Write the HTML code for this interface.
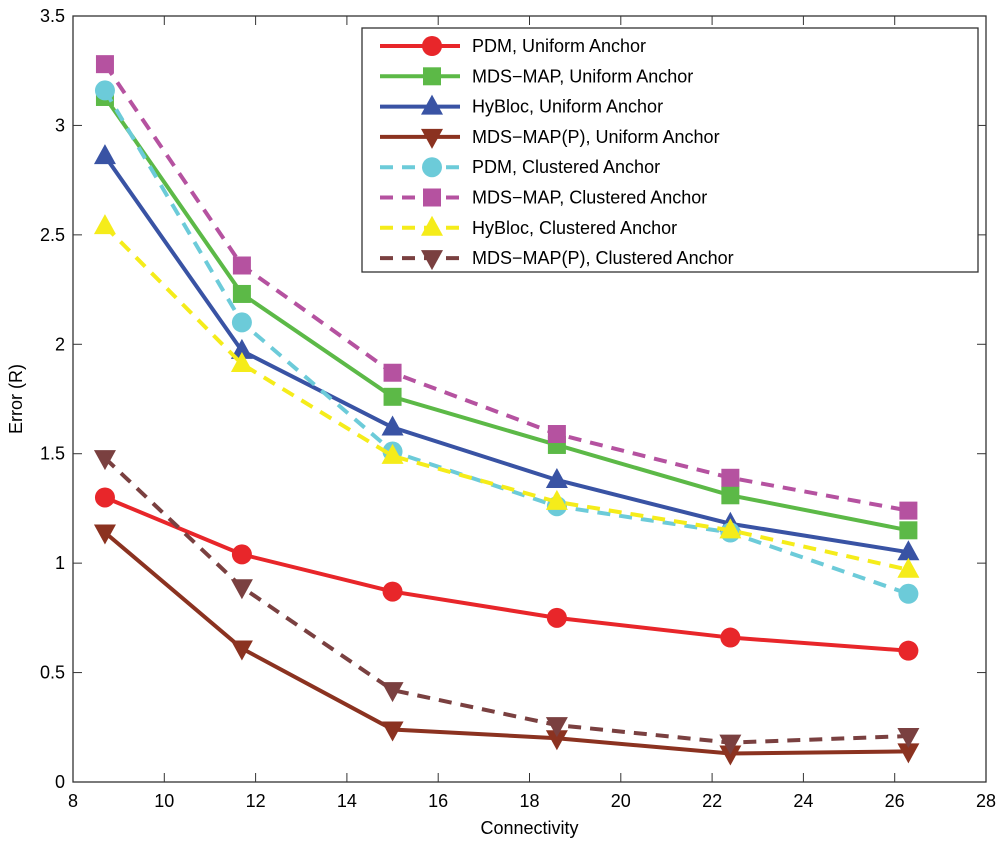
<!DOCTYPE html>
<html><head><meta charset="utf-8"><style>body{margin:0;background:#fff}svg{display:block;font-family:"Liberation Sans",sans-serif}</style></head>
<body>
<svg id="chart" width="1000" height="847" viewBox="0 0 1000 847"></svg>
<script>
const xs=[8.7,11.7,15,18.6,22.4,26.3];
const pdmU=[1.30,1.04,0.87,0.75,0.66,0.60];
const mdsU=[3.13,2.23,1.76,1.54,1.31,1.15];
const hyU=[2.86,1.97,1.62,1.38,1.18,1.05];
const mdspU=[1.14,0.61,0.24,0.20,0.13,0.14];
const pdmC=[3.16,2.10,1.51,1.26,1.14,0.86];
const mdsC=[3.28,2.36,1.87,1.59,1.39,1.24];
const hyC=[2.54,1.91,1.49,1.28,1.15,0.97];
const mdspC=[1.48,0.89,0.42,0.26,0.18,0.21];
const xTicks=[8,10,12,14,16,18,20,22,24,26,28];
const yTicks=[0,0.5,1,1.5,2,2.5,3,3.5];
const names=["PDM, Uniform Anchor","MDS\u2212MAP, Uniform Anchor","HyBloc, Uniform Anchor","MDS\u2212MAP(P), Uniform Anchor","PDM, Clustered Anchor","MDS\u2212MAP, Clustered Anchor","HyBloc, Clustered Anchor","MDS\u2212MAP(P), Clustered Anchor"];
const L=73,R=986,T=16,B=782;
const X=v=>L+(v-8)/20*(R-L), Y=v=>B-v/3.5*(B-T);
const svg=document.getElementById('chart');const NS='http://www.w3.org/2000/svg';
function mk(t,a,p){const e=document.createElementNS(NS,t);for(const k in a)e.setAttribute(k,a[k]);(p||svg).appendChild(e);return e;}
const series=[[pdmU,'#e8262a','c',0],[mdsU,'#5cb947','s',0],[hyU,'#3953a4','t',0],[mdspU,'#8b3220','v',0],[pdmC,'#6ccbd9','c',1],[mdsC,'#b552a0','s',1],[hyC,'#f5ec1a','t',1],[mdspC,'#7a4040','v',1]];
function marker(g,t,x,y,c){
 if(t=='c')mk('circle',{cx:x,cy:y,r:10,fill:c},g);
 else if(t=='s')mk('rect',{x:x-9,y:y-9,width:18,height:18,fill:c},g);
 else if(t=='t')mk('polygon',{points:`${x},${y-12} ${x-11},${y+8} ${x+11},${y+8}`,fill:c},g);
 else mk('polygon',{points:`${x},${y+12} ${x-11},${y-8} ${x+11},${y-8}`,fill:c},g);
}
const ax=mk('g',{});
mk('rect',{x:L,y:T,width:R-L,height:B-T,fill:'none',stroke:'#333','stroke-width':1.3},ax);
xTicks.forEach(v=>{const x=X(v);mk('line',{x1:x,x2:x,y1:B,y2:B-9,stroke:'#333'},ax);mk('line',{x1:x,x2:x,y1:T,y2:T+9,stroke:'#333'},ax);
 const t=mk('text',{x:x,y:B+25,'text-anchor':'middle','font-size':18},ax);t.textContent=v;});
yTicks.forEach(v=>{const y=Y(v);mk('line',{x1:L,x2:L+9,y1:y,y2:y,stroke:'#333'},ax);mk('line',{x1:R,x2:R-9,y1:y,y2:y,stroke:'#333'},ax);
 const t=mk('text',{x:L-8,y:y+6,'text-anchor':'end','font-size':18},ax);t.textContent=v;});
const xt=mk('text',{x:(L+R)/2,y:834,'text-anchor':'middle','font-size':18});xt.textContent='Connectivity';
const yt=mk('text',{x:22,y:(T+B)/2,'text-anchor':'middle','font-size':18,transform:`rotate(-90 22 ${(T+B)/2})`});yt.textContent='Error (R)';
series.forEach((s,i)=>{const g=mk('g',{});
 mk('polyline',{points:s[0].map((v,j)=>X(xs[j])+','+Y(v)).join(' '),fill:'none',stroke:s[1],'stroke-width':4,'stroke-dasharray':s[3]?'13,9':'none'},g);
 s[0].forEach((v,j)=>marker(g,s[2],X(xs[j]),Y(v),s[1]));});
const lg=mk('g',{});
mk('rect',{x:362,y:28,width:616,height:244,fill:'#fff',stroke:'#333','stroke-width':1.3},lg);
series.forEach((s,i)=>{const y=46+i*30.3;const e=mk('g',{},lg);
 mk('line',{x1:380,x2:460,y1:y,y2:y,stroke:s[1],'stroke-width':4,'stroke-dasharray':s[3]?'13,9':'none'},e);
 marker(e,s[2],432,y,s[1]);
 const t=mk('text',{x:472,y:y+6,'font-size':18},e);t.textContent=names[i];});
</script>
</body></html>
